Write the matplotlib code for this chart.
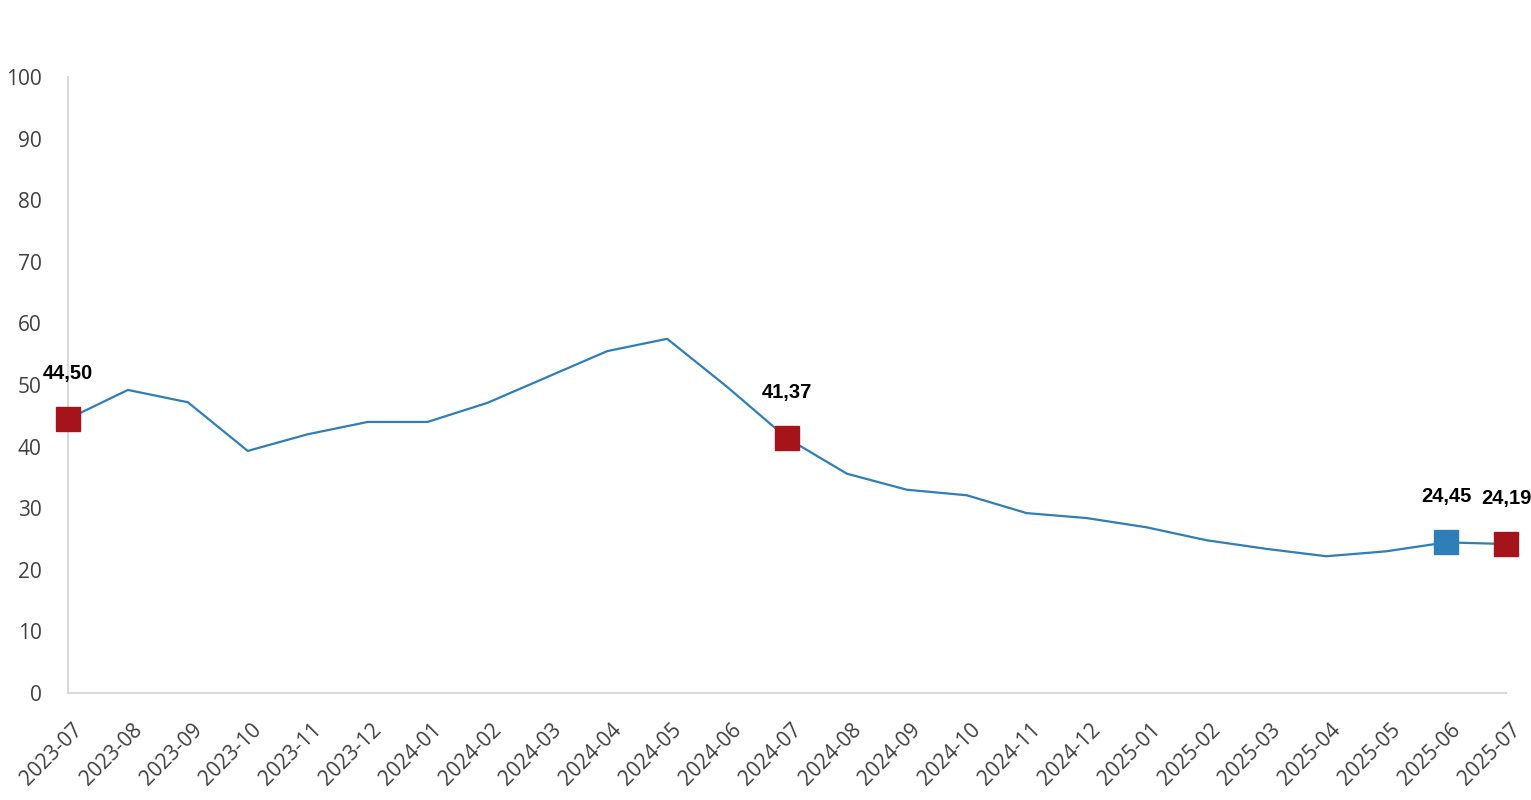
import matplotlib
matplotlib.use("Agg")
import matplotlib.pyplot as plt
from matplotlib.transforms import ScaledTranslation

months = ["2023-07", "2023-08", "2023-09", "2023-10", "2023-11", "2023-12",
          "2024-01", "2024-02", "2024-03", "2024-04", "2024-05", "2024-06",
          "2024-07", "2024-08", "2024-09", "2024-10", "2024-11", "2024-12",
          "2025-01", "2025-02", "2025-03", "2025-04", "2025-05", "2025-06",
          "2025-07"]
values = [44.50, 49.2, 47.2, 39.3, 42.0, 44.0,
          44.0, 47.1, 51.3, 55.5, 57.5, 49.7,
          41.37, 35.6, 33.0, 32.1, 29.2, 28.4,
          26.9, 24.8, 23.4, 22.2, 23.0, 24.45,
          24.19]
red_idx = [0, 12, 24]
blue_idx = [23]
label_idx = [0, 12, 23, 24]

line_color = "#2E7EB8"
red_color = "#A6141B"
tick_color = "#404040"

fig = plt.figure(figsize=(15.31, 8.0), dpi=100)
ax = fig.add_axes([68/1531, 1-693/800, (1506-68)/1531, (693-77)/800])

x = list(range(len(months)))
ax.plot(x, values, color=line_color, lw=1.6, zorder=2)
ax.plot([x[i] for i in red_idx], [values[i] for i in red_idx], ls="none",
        marker="s", ms=17, color=red_color, clip_on=False, zorder=3)
ax.plot([x[i] for i in blue_idx], [values[i] for i in blue_idx], ls="none",
        marker="s", ms=17, color=line_color, clip_on=False, zorder=3)

for i in label_idx:
    ax.annotate(f"{values[i]:.2f}".replace(".", ","), (x[i], values[i]),
                xytext=(0, 33), textcoords="offset points", ha="center", va="center",
                fontsize=14.5, fontweight="bold", family="Liberation Sans", color="black")

ax.set_xlim(0, len(months) - 1)
ax.set_ylim(0, 100)
ax.set_yticks(range(0, 101, 10))
ax.set_xticks(x)
ax.set_xticklabels([])
for lab in ax.get_yticklabels():
    lab.set_family("Open Sans")
    lab.set_fontsize(15)
    lab.set_color(tick_color)

off = ScaledTranslation(11/100, -34/100, fig.dpi_scale_trans)
trans = ax.get_xaxis_transform() + off
for xi, m in zip(x, months):
    ax.text(xi, 0, m, transform=trans, rotation=45, ha="right", va="center",
            rotation_mode="anchor", family="Open Sans", fontsize=15,
            color=tick_color, clip_on=False)

for s in ["top", "right"]:
    ax.spines[s].set_visible(False)
for s in ["left", "bottom"]:
    ax.spines[s].set_color("#d9d9d9")
    ax.spines[s].set_linewidth(1.5)
ax.tick_params(axis="both", length=0)
ax.tick_params(axis="y", pad=19)

fig.savefig("out.png", dpi=100)
